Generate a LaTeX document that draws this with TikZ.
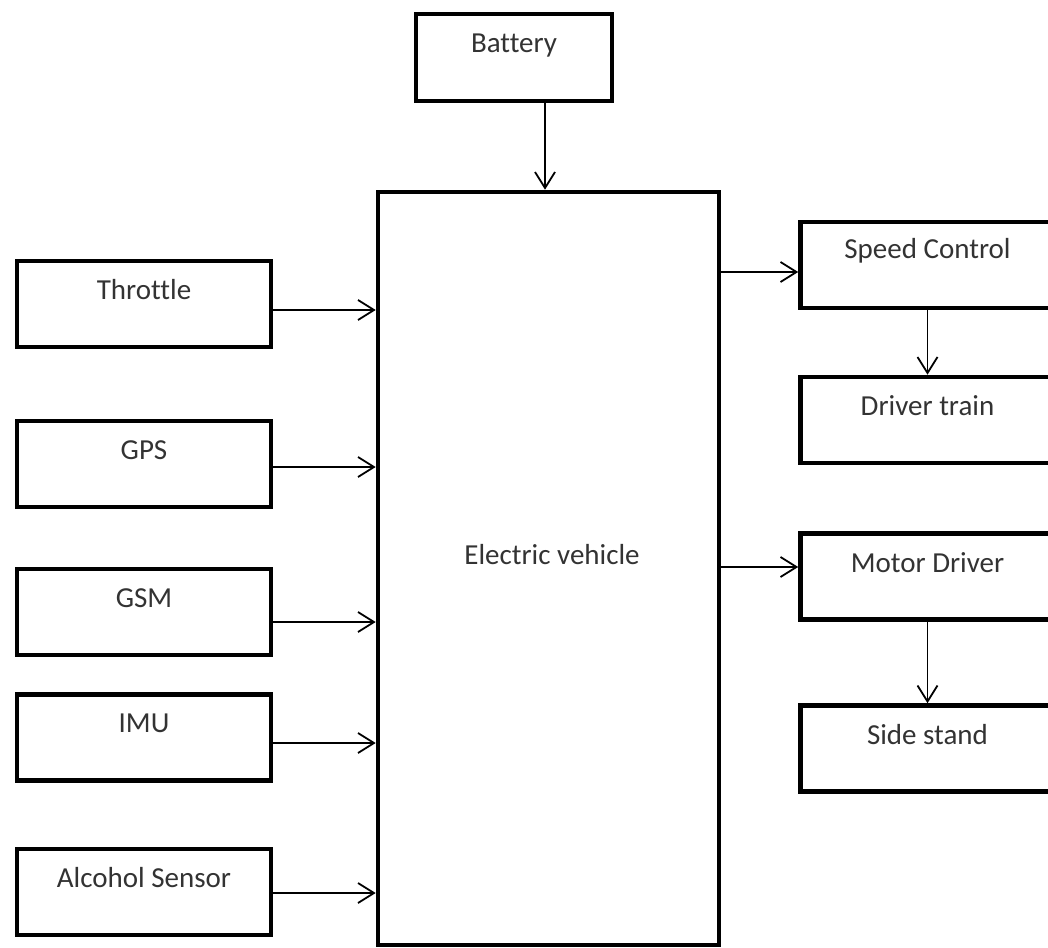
\documentclass[tikz,border=0pt]{standalone}
\usepackage{fontspec}
\setmainfont{Carlito}[RawFeature={-liga;-clig;-calt;-dlig}]
\usetikzlibrary{arrows.meta,positioning}

\begin{document}
\begin{tikzpicture}[x=0.5pt,y=-0.5pt,
  >={Straight Barb[length=8pt,width=10pt]},
  block/.style={rectangle,draw,line width=2.3pt,inner sep=0pt,
    minimum width=127pt,minimum height=43pt},
  boxlabel/.style={label={[anchor=center,yshift=-15.5pt]north:#1}},
  every label/.style={font=\fontsize{14.5}{17}\selectfont,text=black!80}]

  \useasboundingbox (0,0) rectangle (1048,947);
  \fill[white] (0,0) rectangle (1048,947);
  \clip (0,0) rectangle (1048,947);

  % top and centre
  \node[block,minimum width=98pt,minimum height=43.5pt,
    label={[anchor=center,yshift=-17pt]north:Battery}] (bat) at (514,57.5) {};
  \node[block,minimum width=170.5pt,minimum height=376.5pt,
    label={[xshift=1.75pt,yshift=6.75pt]center:Electric vehicle}] (ev) at (548.5,568.5) {};

  % inputs
  \node[block,boxlabel=Throttle] (thr) at (144,304) {};
  \node[block,boxlabel=GPS] (gps) at (144,464) {};
  \node[block,boxlabel=GSM] (gsm) at (144,612) {};
  \node[block,boxlabel=IMU] (imu) at (144,737.5) {};
  \node[block,boxlabel=Alcohol Sensor] (alc) at (144,892) {};

  % outputs
  \node[block,boxlabel=Speed Control] (sc) at (927.5,265) {};
  \node[block,boxlabel=Driver train] (dt) at (927.5,420) {};
  \node[block,boxlabel=Motor Driver] (md) at (927.5,576.5) {};
  \node[block,boxlabel=Side stand] (ss) at (927.5,748.5) {};

  \path[->,line width=0.9pt]
    ([xshift=15.5pt]bat.south) edge ([xshift=15.5pt]bat.south |- ev.north)
    ([yshift=-3pt]thr.east) edge ([yshift=-3pt]thr.east -| ev.west)
    ([yshift=-1.5pt]gps.east) edge ([yshift=-1.5pt]gps.east -| ev.west)
    ([yshift=-5pt]gsm.east) edge ([yshift=-5pt]gsm.east -| ev.west)
    ([yshift=-2.75pt]imu.east) edge ([yshift=-2.75pt]imu.east -| ev.west)
    ([yshift=-0.5pt]alc.east) edge ([yshift=-0.5pt]alc.east -| ev.west)
    ([yshift=-3.5pt]sc.west -| ev.east) edge ([yshift=-3.5pt]sc.west)
    ([yshift=4.75pt]md.west -| ev.east) edge ([yshift=4.75pt]md.west)
    (sc.south) edge (dt.north)
    (md.south) edge (ss.north);

\end{tikzpicture}
\end{document}
